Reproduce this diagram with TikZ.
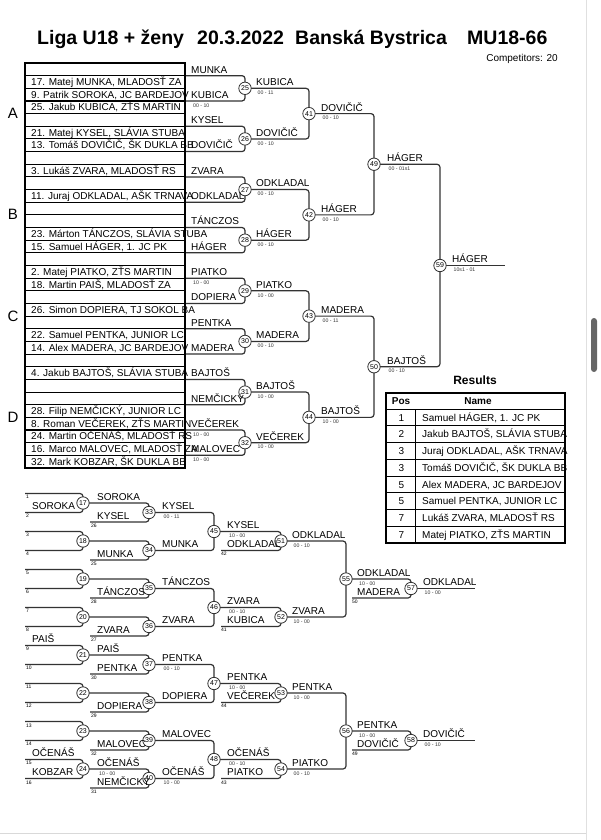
\documentclass[tikz,border=0pt]{standalone}
\usepackage{fontspec}
\setmainfont{Liberation Sans}
\usetikzlibrary{backgrounds}
\tikzset{
  ln/.style={line width=1.2pt, draw=black!80, rounded corners=3pt},
  gridl/.style={line width=1.1pt, draw=black},
  circ/.style={circle, draw=black!80, line width=0.8pt, fill=white, inner sep=0pt, minimum size=12.4pt, font=\fontsize{7}{7}\selectfont},
  nm/.style={anchor=base west, inner sep=0pt, font=\fontsize{10}{12}\selectfont},
  sc/.style={anchor=north west, inner sep=0pt, font=\fontsize{5.2}{6}\selectfont, text=black!80},
  sd/.style={anchor=north west, inner sep=0pt, font=\fontsize{5}{6}\selectfont},
  ttl/.style={anchor=base west, inner sep=0pt, font=\bfseries\fontsize{19.5}{22}\selectfont},
  pool/.style={inner sep=0pt, font=\fontsize{15}{16}\selectfont},
  tb/.style={inner sep=0pt, font=\fontsize{10}{12}\selectfont},
}
\newcommand\RR[1]{(63+12.656*#1)}
\newcommand\nmA[4]{\node[nm] (#1) at (#2,{#3-2.6}) {#4};}
\newcommand\scA[4]{\node[sc] (#1) at (#2,{#3+2.4}) {#4};}
\begin{document}
\begin{tikzpicture}[x=1pt,y=-1pt]
\useasboundingbox (0,0) rectangle (600,840);
% screenshot frame
\draw[black!12, line width=0.6pt] (586,0) -- (586,840);
\draw[black!15, line width=0.6pt] (0,833) -- (586,833);
\fill[black!60, rounded corners=3pt] (591,318) rectangle (597,372);
% title
\node[ttl] (t1) at (37,45) {Liga U18 + ženy};
\node[ttl] (t2) at (197,45) {20.3.2022};
\node[ttl] (t3) at (295,45) {Banská Bystrica};
\node[ttl] (t4) at (467,45) {MU18-66};
\node[anchor=base east, inner sep=0pt, font=\fontsize{10}{12}\selectfont] (comp) at (558,62) {Competitors: 20};
% pools
\node[pool] (pA) at (13,113) {A};
\node[pool] (pB) at (13,214) {B};
\node[pool] (pC) at (13,316) {C};
\node[pool] (pD) at (13,417) {D};
% seed box
\draw[gridl] (25,63) rectangle (185,468);
\foreach \k in {1,...,31} {\draw[gridl] (25,{63+12.656*\k}) -- (185,{63+12.656*\k});}
\foreach \r/\t in {2/{17. Matej MUNKA, MLADOSŤ ZA},3/{9. Patrik SOROKA, JC BARDEJOV},4/{25. Jakub KUBICA, ZŤS MARTIN},
  6/{21. Matej KYSEL, SLÁVIA STUBA},7/{13. Tomáš DOVIČIČ, ŠK DUKLA BB},9/{3. Lukáš ZVARA, MLADOSŤ RS},
  11/{11. Juraj ODKLADAL, AŠK TRNAVA},14/{23. Márton TÁNCZOS, SLÁVIA STUBA},15/{15. Samuel HÁGER, 1. JC PK},
  17/{2. Matej PIATKO, ZŤS MARTIN},18/{18. Martin PAIŠ, MLADOSŤ ZA},20/{26. Simon DOPIERA, TJ SOKOL BA},
  22/{22. Samuel PENTKA, JUNIOR LC},23/{14. Alex MADERA, JC BARDEJOV},25/{4. Jakub BAJTOŠ, SLÁVIA STUBA},
  28/{28. Filip NEMČICKÝ, JUNIOR LC},29/{8. Roman VEČEREK, ZŤS MARTIN},30/{24. Martin OČENÁŠ, MLADOSŤ RS},
  31/{16. Marco MALOVEC, MLADOSŤ ZA},32/{32. Mark KOBZAR, ŠK DUKLA BB}}
  {\node[nm] (s\r) at (31,{63+12.656*\r-2.7}) {\t};}
% main bracket circles
\foreach \n [count=\i from 0] in {25,...,32} {
  \node[circ] (m\n) at (245,{63+12.656*(4*\i+2)}) {\n};
  \coordinate (a\n) at (185,{63+12.656*(4*\i+1)});
  \coordinate (b\n) at (185,{63+12.656*(4*\i+3)});
}
\foreach \n [count=\i from 0] in {41,...,44} {\node[circ] (m\n) at (309,{63+12.656*(8*\i+4)}) {\n};}
\node[circ] (m49) at (374,{\RR{8}}) {49};
\node[circ] (m50) at (374,{\RR{24}}) {50};
\node[circ] (m59) at (440,{\RR{16}}) {59};
\coordinate (fin) at (505,{\RR{16}});
% repechage circles
\foreach \n [count=\k from 0] in {17,...,24} {
  \node[circ] (r\n) at (83,{503+38*\k}) {\n};
  \coordinate (ra\n) at (25,{503+38*\k-9.5});
  \coordinate (rb\n) at (25,{503+38*\k+9.5});
  \pgfmathtruncatemacro{\sA}{2*\k+1}
  \pgfmathtruncatemacro{\sB}{2*\k+2}
  \node[sd] (sa\n) at (26,{503+38*\k-9.5+1.8}) {\sA};
  \node[sd] (sb\n) at (26,{503+38*\k+9.5+1.8}) {\sB};
}
\foreach \n/\s [count=\k from 0] in {33/26,34/25,35/28,36/27,37/30,38/29,39/32,40/31} {
  \node[circ] (r\n) at (149,{503+38*\k+9.5}) {\n};
  \coordinate (rb\n) at (90,{503+38*\k+19});
  \node[sd] (sq\n) at (91,{503+38*\k+19+1.8}) {\s};
}
\foreach \n [count=\k from 0] in {45,...,48} {\node[circ] (r\n) at (214,{531.5+76*\k}) {\n};}
\foreach \n/\s [count=\k from 0] in {51/42,52/41,53/44,54/43} {
  \node[circ] (r\n) at (281,{541+76*\k}) {\n};
  \coordinate (rb\n) at (221,{550.5+76*\k});
  \node[sd] (sq\n) at (221,{550.5+76*\k+1.8}) {\s};
}
\node[circ] (r55) at (346,579) {55};
\node[circ] (r56) at (346,731) {56};
\node[circ] (r57) at (411,588.5) {57};
\node[circ] (r58) at (411,740.5) {58};
\coordinate (rb57) at (352,598);
\coordinate (rb58) at (352,750);
\node[sd] (sq57) at (352,599.8) {50};
\node[sd] (sq58) at (352,751.8) {49};
\coordinate (f57) at (475,588.5);
\coordinate (f58) at (475,740.5);
% connectors
\begin{pgfonlayer}{background}
\foreach \n in {25,...,32} {\draw[ln] (a\n) -| (m\n.center); \draw[ln] (b\n) -| (m\n.center);}
\foreach \p/\q/\w in {25/26/41,27/28/42,29/30/43,31/32/44,41/42/49,43/44/50,49/50/59} {
  \draw[ln] (m\p.center) -| (m\w.center); \draw[ln] (m\q.center) -| (m\w.center);}
\draw[ln] (m59.center) -- (fin);
\foreach \n in {17,...,24} {\draw[ln] (ra\n) -| (r\n.center); \draw[ln] (rb\n) -| (r\n.center);}
\foreach \p/\w in {17/33,18/34,19/35,20/36,21/37,22/38,23/39,24/40,45/51,46/52,47/53,48/54,55/57,56/58} {
  \draw[ln] (r\p.center) -| (r\w.center); \draw[ln] (rb\w) -| (r\w.center);}
\foreach \p/\q/\w in {33/34/45,35/36/46,37/38/47,39/40/48,51/52/55,53/54/56} {
  \draw[ln] (r\p.center) -| (r\w.center); \draw[ln] (r\q.center) -| (r\w.center);}
\draw[ln] (r57.center) -- (f57);
\draw[ln] (r58.center) -- (f58);
\end{pgfonlayer}
% main labels round 1
\nmA{n25a}{191}{\RR{1}}{MUNKA}
\nmA{n25b}{191}{\RR{3}}{KUBICA}
\scA{s25b}{193}{\RR{3}}{00 - 10}
\nmA{n26a}{191}{\RR{5}}{KYSEL}
\nmA{n26b}{191}{\RR{7}}{DOVIČIČ}
\nmA{n27a}{191}{\RR{9}}{ZVARA}
\nmA{n27b}{191}{\RR{11}}{ODKLADAL}
\nmA{n28a}{191}{\RR{13}}{TÁNCZOS}
\nmA{n28b}{191}{\RR{15}}{HÁGER}
\nmA{n29a}{191}{\RR{17}}{PIATKO}
\scA{s29a}{193}{\RR{17}}{10 - 00}
\nmA{n29b}{191}{\RR{19}}{DOPIERA}
\nmA{n30a}{191}{\RR{21}}{PENTKA}
\nmA{n30b}{191}{\RR{23}}{MADERA}
\nmA{n31a}{191}{\RR{25}}{BAJTOŠ}
\nmA{n31b}{191}{\RR{27}}{NEMČICKÝ}
\nmA{n32a}{191}{\RR{29}}{VEČEREK}
\scA{s32a}{193}{\RR{29}}{10 - 00}
\nmA{n32b}{191}{\RR{31}}{MALOVEC}
\scA{s32b}{193}{\RR{31}}{10 - 00}
% round 2
\foreach \n/\t/\s [count=\i from 0] in {25/KUBICA/00 - 11,26/DOVIČIČ/00 - 10,27/ODKLADAL/00 - 10,28/HÁGER/00 - 10,29/PIATKO/10 - 00,30/MADERA/00 - 10,31/BAJTOŠ/10 - 00,32/VEČEREK/10 - 00} {
  \nmA{o\n}{256}{63+12.656*(4*\i+2)}{\t}
  \scA{os\n}{257.5}{63+12.656*(4*\i+2)}{\s}
}
\foreach \n/\t/\s [count=\i from 0] in {41/DOVIČIČ/00 - 10,42/HÁGER/00 - 10,43/MADERA/00 - 11,44/BAJTOŠ/10 - 00} {
  \nmA{o\n}{321}{63+12.656*(8*\i+4)}{\t}
  \scA{os\n}{322.5}{63+12.656*(8*\i+4)}{\s}
}
\nmA{o49}{387}{\RR{8}}{HÁGER}
\scA{os49}{388.5}{\RR{8}}{00 - 01s1}
\nmA{o50}{387}{\RR{24}}{BAJTOŠ}
\scA{os50}{388.5}{\RR{24}}{00 - 10}
\nmA{o59}{452}{\RR{16}}{HÁGER}
\scA{os59}{453.5}{\RR{16}}{10s1 - 01}
% repechage labels R1
\nmA{q17b}{32}{512.5}{SOROKA}
\nmA{q21a}{32}{645.5}{PAIŠ}
\nmA{q24a}{32}{759.5}{OČENÁŠ}
\nmA{q24b}{32}{778.5}{KOBZAR}
% R2
\nmA{q33a}{97}{503}{SOROKA}
\nmA{q37a}{97}{655}{PAIŠ}
\nmA{q40a}{97}{769}{OČENÁŠ}
\scA{w40a}{99}{769}{10 - 00}
\foreach \n/\t [count=\k from 0] in {33/KYSEL,34/MUNKA,35/TÁNCZOS,36/ZVARA,37/PENTKA,38/DOPIERA,39/MALOVEC,40/NEMČICKÝ}
  {\nmA{q\n b}{97}{503+38*\k+19}{\t}}
% R3
\foreach \n/\t [count=\k from 0] in {33/KYSEL,34/MUNKA,35/TÁNCZOS,36/ZVARA,37/PENTKA,38/DOPIERA,39/MALOVEC,40/OČENÁŠ}
  {\nmA{u\n}{162}{512.5+38*\k}{\t}}
\scA{v33}{163.5}{512.5}{00 - 11}
\scA{v37}{163.5}{664.5}{00 - 10}
\scA{v40}{163.5}{778.5}{10 - 00}
% R4
\foreach \n/\t/\s/\b [count=\k from 0] in {45/KYSEL/10 - 00/ODKLADAL,46/ZVARA/00 - 10/KUBICA,47/PENTKA/10 - 00/VEČEREK,48/OČENÁŠ/00 - 10/PIATKO} {
  \nmA{u\n}{227}{531.5+76*\k}{\t}
  \scA{v\n}{229}{531.5+76*\k}{\s}
  \nmA{ub\n}{227}{550.5+76*\k}{\b}
}
% R5
\foreach \n/\t/\s [count=\k from 0] in {51/ODKLADAL/00 - 10,52/ZVARA/10 - 00,53/PENTKA/10 - 00,54/PIATKO/00 - 10} {
  \nmA{u\n}{292}{541+76*\k}{\t}
  \scA{v\n}{293.5}{541+76*\k}{\s}
}
% R6
\nmA{u55}{357}{579}{ODKLADAL}
\scA{v55}{359}{579}{10 - 00}
\nmA{ub57}{357}{598}{MADERA}
\nmA{u56}{357}{731}{PENTKA}
\scA{v56}{359}{731}{10 - 00}
\nmA{ub58}{357}{750}{DOVIČIČ}
% finals
\nmA{u57}{423}{588.5}{ODKLADAL}
\scA{v57}{424.5}{588.5}{10 - 00}
\nmA{u58}{423}{740.5}{DOVIČIČ}
\scA{v58}{424.5}{740.5}{00 - 10}
% results
\node[inner sep=0pt, font=\bfseries\fontsize{12}{14}\selectfont] (res) at (475,380) {Results};
\draw[line width=0.8pt] (415,409) -- (415,543);
\foreach \k in {0,...,7} {\draw[line width=0.8pt] (386,{409+16.75*\k}) -- (565,{409+16.75*\k});}
\draw[line width=1.6pt] (386,393) rectangle (565,543);
\node[tb, font=\bfseries\fontsize{10}{12}\selectfont] (hpos) at (401,401) {Pos};
\node[tb, font=\bfseries\fontsize{10}{12}\selectfont] (hname) at (478,401) {Name};
\foreach \p/\t [count=\k from 0] in {1/{Samuel HÁGER, 1. JC PK},2/{Jakub BAJTOŠ, SLÁVIA STUBA},3/{Juraj ODKLADAL, AŠK TRNAVA},3/{Tomáš DOVIČIČ, ŠK DUKLA BB},5/{Alex MADERA, JC BARDEJOV},5/{Samuel PENTKA, JUNIOR LC},7/{Lukáš ZVARA, MLADOSŤ RS},7/{Matej PIATKO, ZŤS MARTIN}} {
  \node[tb, anchor=base] (rp\k) at (401.5,{409+16.75*\k+12}) {\p};
  \node[tb, anchor=base west] (rn\k) at (422,{409+16.75*\k+12}) {\t};
}
\end{tikzpicture}
\end{document}
